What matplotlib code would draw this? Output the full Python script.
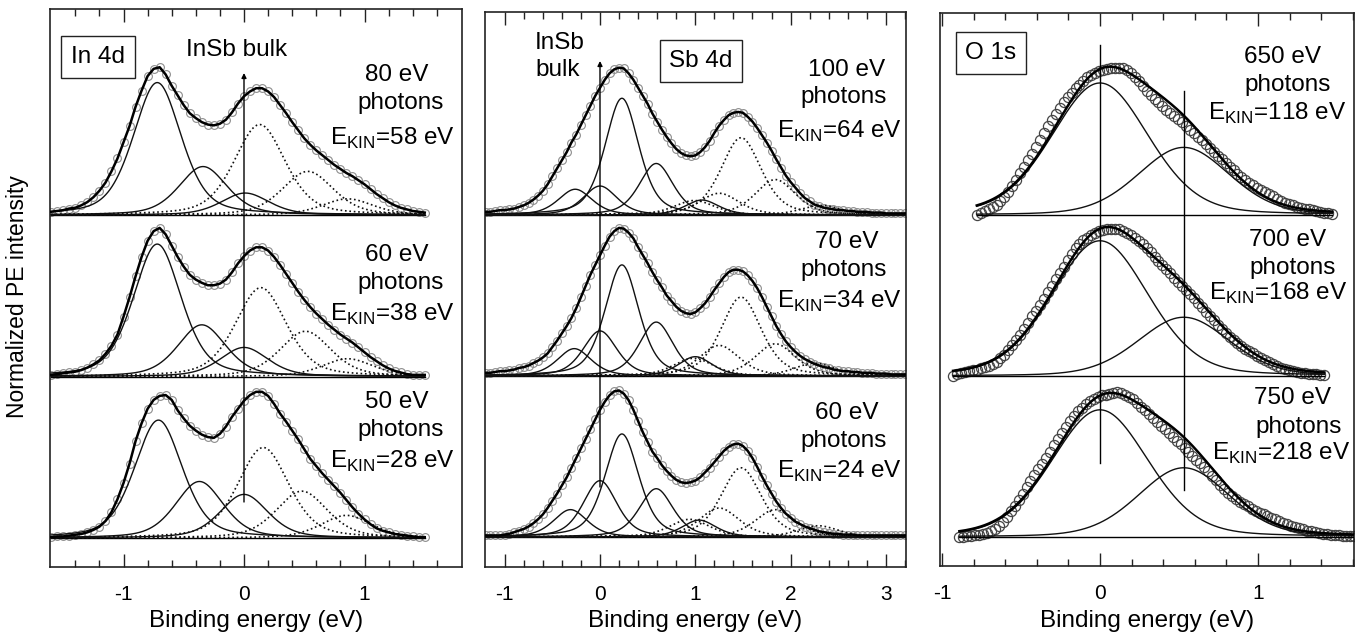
import numpy as np
import matplotlib
matplotlib.use("Agg")
import matplotlib.pyplot as plt

plt.rcParams['font.family'] = ['Liberation Sans', 'DejaVu Sans']
plt.rcParams['mathtext.fontset'] = 'custom'
plt.rcParams['mathtext.rm'] = 'Liberation Sans'

# ======================= data =======================
# Spectra are listed top -> bottom. Measured intensities are sampled at a fixed
# energy step starting at the given first binding energy.

# ---------------- In 4d (step 0.05 eV) ----------------
in4d_photons = ['80 eV', '60 eV', '50 eV']
in4d_ekin = ['58', '38', '28']
in4d_start = [-1.60, -1.60, -1.60]
in4d_80 = [0.02, 0.025, 0.03, 0.04, 0.045, 0.06, 0.08, 0.11, 0.15, 0.20, 0.27, 0.35, 0.45, 0.55,
           0.67, 0.77, 0.86, 0.905, 0.915, 0.87, 0.80, 0.74, 0.68, 0.63, 0.60, 0.575, 0.56, 0.555,
           0.565, 0.59, 0.635, 0.69, 0.735, 0.765, 0.785, 0.785, 0.765, 0.73, 0.68, 0.63, 0.575,
           0.525, 0.475, 0.435, 0.40, 0.37, 0.34, 0.31, 0.285, 0.26, 0.24, 0.215, 0.19, 0.16,
           0.13, 0.105, 0.08, 0.06, 0.045, 0.035, 0.025, 0.02, 0.015]
in4d_60 = [0.01, 0.015, 0.02, 0.025, 0.03, 0.04, 0.055, 0.075, 0.10, 0.14, 0.19, 0.26, 0.37, 0.49,
           0.62, 0.74, 0.84, 0.90, 0.92, 0.88, 0.81, 0.74, 0.68, 0.63, 0.60, 0.58, 0.565, 0.565,
           0.575, 0.60, 0.645, 0.70, 0.745, 0.78, 0.80, 0.80, 0.78, 0.74, 0.69, 0.635, 0.58,
           0.525, 0.475, 0.43, 0.39, 0.355, 0.32, 0.29, 0.26, 0.235, 0.21, 0.18, 0.15, 0.12,
           0.095, 0.07, 0.05, 0.035, 0.025, 0.015, 0.01, 0.01, 0.01]
in4d_50 = [0.005, 0.01, 0.01, 0.015, 0.02, 0.025, 0.035, 0.05, 0.07, 0.105, 0.16, 0.24, 0.34,
           0.46, 0.60, 0.71, 0.80, 0.855, 0.88, 0.885, 0.855, 0.79, 0.74, 0.695, 0.665, 0.64,
           0.625, 0.62, 0.645, 0.69, 0.75, 0.80, 0.85, 0.885, 0.905, 0.905, 0.88, 0.83, 0.77,
           0.72, 0.665, 0.61, 0.55, 0.49, 0.445, 0.40, 0.36, 0.32, 0.28, 0.235, 0.19, 0.15, 0.115,
           0.085, 0.06, 0.045, 0.035, 0.025, 0.02, 0.015, 0.01, 0.005, 0.005]
in4d_d52_centers = [[-0.72, -0.34, 0.01], [-0.72, -0.35, 0.00], [-0.71, -0.37, 0.00]]
in4d_d52_heights = [[0.82, 0.30, 0.136], [0.82, 0.32, 0.18], [0.73, 0.35, 0.27]]
in4d_d32_centers = [[0.13, 0.53, 0.86], [0.14, 0.51, 0.86], [0.16, 0.48, 0.85]]
in4d_d32_heights = [[0.56, 0.27, 0.10], [0.55, 0.28, 0.11], [0.56, 0.29, 0.14]]
in4d_hwhm = (0.235, 0.25)
in4d_eta = 0.4

# ---------------- Sb 4d (step 0.05 eV) ----------------
sb4d_photons = ['100 eV', '70 eV', '60 eV']
sb4d_ekin = ['64', '34', '24']
sb4d_start = [-1.20, -1.20, -1.20]
sb4d_100 = [0.02, 0.02, 0.025, 0.03, 0.03, 0.035, 0.04, 0.05, 0.06, 0.075, 0.095, 0.12, 0.15,
            0.19, 0.24, 0.29, 0.34, 0.39, 0.45, 0.50, 0.56, 0.62, 0.68, 0.74, 0.79, 0.84, 0.88,
            0.905, 0.915, 0.91, 0.88, 0.84, 0.79, 0.74, 0.69, 0.63, 0.58, 0.53, 0.485, 0.445,
            0.41, 0.385, 0.37, 0.365, 0.37, 0.39, 0.42, 0.46, 0.51, 0.555, 0.59, 0.62, 0.635,
            0.64, 0.635, 0.61, 0.58, 0.54, 0.495, 0.45, 0.40, 0.345, 0.295, 0.245, 0.205, 0.17,
            0.135, 0.105, 0.085, 0.065, 0.055, 0.045, 0.04, 0.035, 0.03, 0.03, 0.025, 0.025, 0.02,
            0.02, 0.02, 0.015, 0.015, 0.015, 0.01, 0.01, 0.01, 0.01, 0.01]
sb4d_70 = [0.02, 0.02, 0.025, 0.03, 0.03, 0.035, 0.04, 0.05, 0.055, 0.065, 0.08, 0.095, 0.115,
           0.14, 0.18, 0.22, 0.265, 0.31, 0.36, 0.42, 0.49, 0.56, 0.63, 0.69, 0.75, 0.81, 0.865,
           0.90, 0.92, 0.915, 0.89, 0.855, 0.80, 0.75, 0.70, 0.645, 0.595, 0.55, 0.50, 0.465,
           0.43, 0.405, 0.39, 0.385, 0.395, 0.42, 0.45, 0.49, 0.535, 0.575, 0.615, 0.645, 0.66,
           0.66, 0.65, 0.625, 0.59, 0.545, 0.49, 0.43, 0.37, 0.31, 0.26, 0.215, 0.18, 0.15,
           0.125, 0.105, 0.09, 0.075, 0.065, 0.055, 0.05, 0.04, 0.035, 0.03, 0.03, 0.025, 0.025,
           0.02, 0.02, 0.02, 0.015, 0.015, 0.015, 0.01, 0.01, 0.01, 0.01]
sb4d_60 = [0.01, 0.01, 0.01, 0.01, 0.015, 0.02, 0.03, 0.04, 0.05, 0.065, 0.085, 0.11, 0.14, 0.18,
           0.225, 0.27, 0.32, 0.37, 0.43, 0.49, 0.55, 0.61, 0.67, 0.73, 0.79, 0.84, 0.88, 0.905,
           0.91, 0.89, 0.85, 0.79, 0.72, 0.65, 0.59, 0.53, 0.49, 0.445, 0.41, 0.38, 0.355, 0.34,
           0.335, 0.34, 0.35, 0.37, 0.40, 0.43, 0.465, 0.50, 0.535, 0.56, 0.575, 0.58, 0.565,
           0.535, 0.49, 0.435, 0.375, 0.32, 0.27, 0.22, 0.18, 0.145, 0.12, 0.095, 0.08, 0.065,
           0.055, 0.045, 0.035, 0.03, 0.025, 0.02, 0.02, 0.015, 0.015, 0.015, 0.01, 0.01, 0.01,
           0.01, 0.01, 0.01, 0.01, 0.01, 0.01, 0.01, 0.01]
sb4d_d52_centers = [[-0.26, 0.00, 0.23, 0.59, 1.07], [-0.27, 0.00, 0.23, 0.59, 1.00],
                    [-0.31, 0.00, 0.23, 0.59, 1.04]]
sb4d_d52_heights = [[0.16, 0.18, 0.725, 0.32, 0.093], [0.17, 0.28, 0.69, 0.335, 0.12],
                    [0.17, 0.35, 0.64, 0.30, 0.105]]
sb4d_d32_centers = [[0.99, 1.25, 1.48, 1.84, 2.32], [0.98, 1.25, 1.48, 1.84, 2.25],
                    [0.94, 1.25, 1.48, 1.84, 2.29]]
sb4d_d32_heights = [[0.09, 0.135, 0.48, 0.22, 0.06], [0.11, 0.19, 0.49, 0.20, 0.08],
                    [0.11, 0.18, 0.43, 0.17, 0.07]]
sb4d_hwhm = (0.21, 0.25)
sb4d_eta = 0.45

# ---------------- O 1s (step 0.025 eV) ----------------
o1s_photons = ['650 eV', '700 eV', '750 eV']
o1s_ekin = ['118', '168', '218']
o1s_start = [-0.78, -0.93, -0.89]
o1s_650 = [0.0, 0.012, 0.025, 0.036, 0.05, 0.065, 0.085, 0.11, 0.14, 0.178, 0.22, 0.26, 0.30,
           0.34, 0.38, 0.422, 0.465, 0.508, 0.55, 0.59, 0.63, 0.667, 0.70, 0.732, 0.76, 0.786,
           0.81, 0.834, 0.855, 0.872, 0.885, 0.894, 0.90, 0.906, 0.91, 0.914, 0.915, 0.91, 0.90,
           0.882, 0.86, 0.83, 0.80, 0.772, 0.745, 0.722, 0.70, 0.677, 0.655, 0.635, 0.615, 0.595,
           0.575, 0.553, 0.53, 0.508, 0.485, 0.463, 0.44, 0.415, 0.39, 0.367, 0.345, 0.322, 0.30,
           0.277, 0.255, 0.234, 0.215, 0.20, 0.185, 0.17, 0.155, 0.142, 0.13, 0.115, 0.10, 0.087,
           0.075, 0.067, 0.06, 0.052, 0.045, 0.04, 0.035, 0.03, 0.025, 0.02, 0.015, 0.01, 0.005]
o1s_700 = [0.0, 0.012, 0.02, 0.025, 0.03, 0.035, 0.04, 0.047, 0.055, 0.064, 0.075, 0.09, 0.11,
           0.133, 0.16, 0.19, 0.225, 0.257, 0.29, 0.33, 0.37, 0.405, 0.44, 0.48, 0.52, 0.56, 0.60,
           0.64, 0.68, 0.72, 0.76, 0.792, 0.82, 0.842, 0.86, 0.877, 0.89, 0.899, 0.905, 0.911,
           0.915, 0.914, 0.91, 0.90, 0.89, 0.876, 0.86, 0.841, 0.82, 0.796, 0.77, 0.742, 0.715,
           0.69, 0.665, 0.637, 0.61, 0.585, 0.56, 0.535, 0.51, 0.483, 0.455, 0.427, 0.40, 0.372,
           0.345, 0.317, 0.29, 0.267, 0.245, 0.224, 0.205, 0.187, 0.17, 0.155, 0.14, 0.125, 0.11,
           0.097, 0.085, 0.072, 0.06, 0.052, 0.045, 0.037, 0.03, 0.025, 0.02, 0.017, 0.015, 0.012,
           0.01, 0.007, 0.005]
o1s_750 = [0.0, 0.003, 0.005, 0.007, 0.01, 0.014, 0.02, 0.027, 0.035, 0.05, 0.07, 0.096, 0.125,
           0.16, 0.195, 0.232, 0.27, 0.31, 0.35, 0.385, 0.42, 0.455, 0.49, 0.53, 0.57, 0.607,
           0.645, 0.683, 0.72, 0.752, 0.78, 0.804, 0.825, 0.844, 0.86, 0.871, 0.88, 0.885, 0.89,
           0.895, 0.90, 0.894, 0.885, 0.871, 0.855, 0.833, 0.81, 0.787, 0.765, 0.74, 0.715, 0.692,
           0.67, 0.645, 0.62, 0.597, 0.575, 0.552, 0.53, 0.505, 0.48, 0.458, 0.435, 0.408, 0.38,
           0.352, 0.325, 0.30, 0.275, 0.254, 0.235, 0.22, 0.205, 0.19, 0.175, 0.162, 0.15, 0.14,
           0.13, 0.12, 0.11, 0.10, 0.09, 0.08, 0.07, 0.062, 0.055, 0.047, 0.04, 0.035, 0.03, 0.025,
           0.02, 0.017, 0.015, 0.012, 0.01, 0.009, 0.008, 0.006, 0.005]
o1s_centers = [[0.00, 0.53], [0.00, 0.53], [0.00, 0.53]]
o1s_heights = [[0.82, 0.42], [0.84, 0.365], [0.79, 0.43]]
o1s_hwhm = (0.36, 0.34)
o1s_eta = 0.2

STEP_4D = 0.05
STEP_O1S = 0.025
offsets = [2, 1, 0]   # vertical stacking, top -> bottom

# ======================= drawing =======================
W, H = 1364, 633
fig = plt.figure(figsize=(W / 100, H / 100), dpi=100)
FS = 17.5


def pv(x, c, h, w, eta):
    u = (x - c) / w
    return h * (eta / (1 + u ** 2) + (1 - eta) * np.exp(-np.log(2) * u ** 2))


def make_ax(box, xlim, ylim, major, minor, ticklabels):
    l, t, r, b = box
    ax = fig.add_axes([l / W, 1 - b / H, (r - l) / W, (b - t) / H])
    ax.set_xlim(*xlim)
    ax.set_ylim(*ylim)
    ax.set_yticks([])
    ax.set_xticks(major)
    ax.set_xticklabels(ticklabels)
    ax.set_xticks(minor, minor=True)
    ax.tick_params(axis='x', which='both', direction='in', top=True, bottom=True,
                   width=1.0, color='#222222', labelsize=15, pad=13)
    ax.tick_params(axis='x', which='major', length=9.5)
    ax.tick_params(axis='x', which='minor', length=5)
    for s in ax.spines.values():
        s.set_linewidth(1.2)
        s.set_color('#222222')
    return ax


def ftext(px, py, s, size=FS, ha='center', va='center', box=False):
    kw = {}
    if box:
        kw['bbox'] = dict(boxstyle='square,pad=0.4', fc='white', ec='#222222', lw=1.0)
    fig.text(px / W, 1 - py / H, s, fontsize=size, ha=ha, va=va, **kw)


def draw_doublet_panel(ax, spectra, starts, c52, h52, c32, h32, hwhm, eta):
    for i, off in enumerate(offsets):
        y = np.asarray(spectra[i])
        xd = starts[i] + STEP_4D * np.arange(len(y))
        x = np.linspace(xd[0], xd[-1], 700)
        ax.plot(xd, y + off, 'o', ms=5.6, mfc='none', mec='#8c8c8c', mew=0.8, zorder=2)
        ax.plot([xd[0], xd[-1]], [off, off], color='k', lw=1.0, zorder=3)
        comps = [(c, h, hwhm[0], '-') for c, h in zip(c52[i], h52[i])] + \
                [(c, h, hwhm[1], ':') for c, h in zip(c32[i], h32[i])]
        for c, h, w, ls in comps:
            ax.plot(x, pv(x, c, h, w, eta) + off, color='#111111',
                    lw=1.0 if ls == '-' else 1.2, ls=ls, zorder=3)
        ax.plot(xd, y + off, color='k', lw=1.8, zorder=4)


# ---------- panel 1: In 4d ----------
box1 = (50, 9, 462, 567)
ax1 = make_ax(box1, ((50 - 244) / 120.5, (462 - 244) / 120.5), (-29 / 161.5, 529 / 161.5),
              [-1, 0, 1], np.arange(-1.4, 1.61, 0.2), ['-1', '0', '1'])
draw_doublet_panel(ax1, [in4d_80, in4d_60, in4d_50], in4d_start, in4d_d52_centers,
                   in4d_d52_heights, in4d_d32_centers, in4d_d32_heights, in4d_hwhm, in4d_eta)
ax1.annotate('', xy=(0, (538 - 73) / 161.5), xytext=(0, (538 - 502) / 161.5),
             arrowprops=dict(arrowstyle='-|>', lw=1.0, color='k', mutation_scale=7,
                             shrinkA=0, shrinkB=0), zorder=5)
ftext(98, 57, 'In 4d', box=True)
ftext(237, 50, 'InSb bulk')
ys1 = [(75, 103, 138), (255, 283, 314), (402, 430, 461)]
for i in range(3):
    ftext(397, ys1[i][0], in4d_photons[i])
    ftext(401, ys1[i][1], 'photons')
    ftext(392, ys1[i][2], r'E$_{\mathregular{KIN}}$=' + in4d_ekin[i] + ' eV')

# ---------- panel 2: Sb 4d ----------
box2 = (485, 12, 906, 567)
ax2 = make_ax(box2, ((485 - 600) / 95.3, (906 - 600) / 95.3), (-30 / 161, 525 / 161),
              [-1, 0, 1, 2, 3], np.arange(-1.0, 3.21, 0.2), ['-1', '0', '1', '2', '3'])
draw_doublet_panel(ax2, [sb4d_100, sb4d_70, sb4d_60], sb4d_start, sb4d_d52_centers,
                   sb4d_d52_heights, sb4d_d32_centers, sb4d_d32_heights, sb4d_hwhm, sb4d_eta)
ax2.annotate('', xy=(0, (537 - 61) / 161), xytext=(0, (537 - 487) / 161),
             arrowprops=dict(arrowstyle='-|>', lw=1.0, color='k', mutation_scale=7,
                             shrinkA=0, shrinkB=0), zorder=5)
ftext(535, 43, 'InSb', ha='left')
ftext(535, 70, 'bulk', ha='left')
ftext(701, 61, 'Sb 4d', box=True)
ys2 = [(70, 97, 131), (242, 270, 301), (413, 441, 471)]
for i in range(3):
    ftext(847, ys2[i][0], sb4d_photons[i])
    ftext(844, ys2[i][1], 'photons')
    ftext(839, ys2[i][2], r'E$_{\mathregular{KIN}}$=' + sb4d_ekin[i] + ' eV')

# ---------- panel 3: O 1s ----------
box3 = (940, 13, 1354, 566)
ax3 = make_ax(box3, ((940 - 1100) / 158, (1354 - 1100) / 158), (-29 / 161, 524 / 161),
              [-1, 0, 1], np.arange(-0.8, 1.61, 0.2), ['-1', '0', '1'])
for i, (off, y) in enumerate(zip(offsets, [o1s_650, o1s_700, o1s_750])):
    y = np.asarray(y)
    xd = o1s_start[i] + STEP_O1S * np.arange(len(y))
    x = np.linspace(xd[0], xd[-1], 500)
    ax3.plot(xd, y + off, 'o', ms=7.3, mfc='none', mec='#444444', mew=0.9, zorder=2)
    ax3.plot([xd[0], xd[-1]], [off, off], color='k', lw=1.0, zorder=3)
    comps = list(zip(o1s_centers[i], o1s_heights[i], o1s_hwhm))
    for c, h, w in comps:
        ax3.plot(x, pv(x, c, h, w, o1s_eta) + off, color='#111111', lw=1.0, zorder=3)
    fit = sum(pv(x, c, h, w, o1s_eta) for c, h, w in comps)
    ax3.plot(x, fit + off, color='k', lw=1.8, zorder=4)
o1s_vlines = [(0.0, (537 - 463) / 161, (537 - 45) / 161), (0.53, (537 - 490) / 161, (537 - 91) / 161)]
for xv, y0, y1 in o1s_vlines:
    ax3.plot([xv, xv], [y0, y1], color='k', lw=1.0, zorder=5)
ftext(991, 53, 'O 1s', box=True)
ys3 = [(57, 85, 113), (240, 268, 293), (398, 427, 453)]
xs3 = [(1283, 1288, 1277), (1288, 1293, 1278), (1293, 1299, 1281)]
for i in range(3):
    ftext(xs3[i][0], ys3[i][0], o1s_photons[i])
    ftext(xs3[i][1], ys3[i][1], 'photons')
    ftext(xs3[i][2], ys3[i][2], r'E$_{\mathregular{KIN}}$=' + o1s_ekin[i] + ' eV')

# ---------- axis labels ----------
fig.text(18 / W, 1 - 297 / H, 'Normalized PE intensity', rotation=90, fontsize=16.5,
         ha='center', va='center')
for (l, t, r, b) in (box1, box2, box3):
    fig.text((l + r) / 2 / W, 1 - 627 / H, 'Binding energy (eV)', fontsize=FS,
             ha='center', va='baseline')

fig.savefig('out.png', dpi=100)
